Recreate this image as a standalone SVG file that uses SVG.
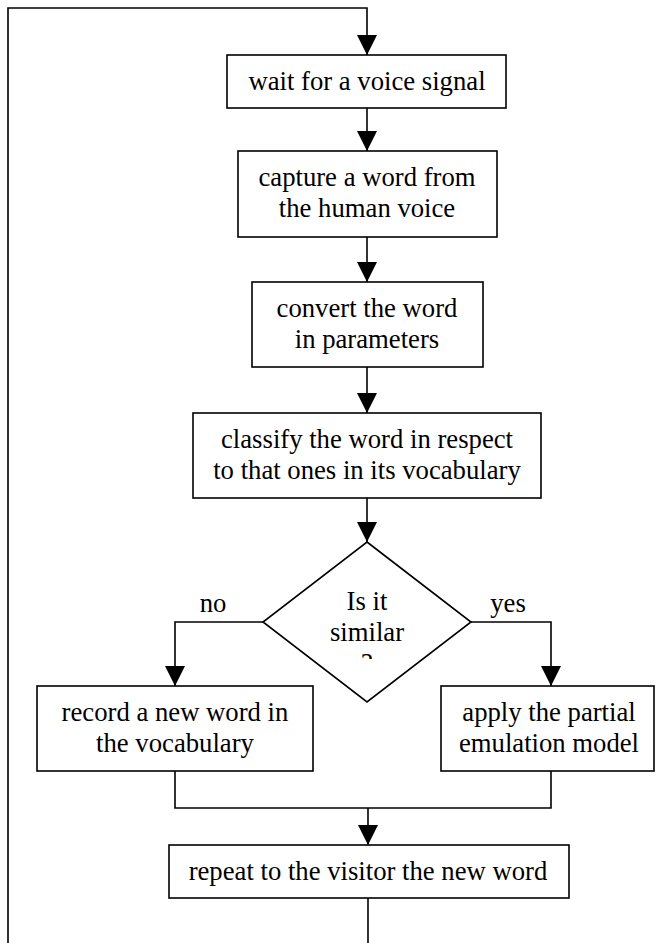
<svg xmlns="http://www.w3.org/2000/svg" width="656" height="943" viewBox="0 0 656 943">
<style>
.box{fill:#fff;stroke:#000;stroke-width:1.6}
.ln{fill:none;stroke:#000;stroke-width:1.6}
text{font-family:"Liberation Serif","Times New Roman",serif;font-size:26.7px;fill:#000;text-anchor:middle}
</style>
<defs>
<marker id="ah" markerWidth="20" markerHeight="20" refX="20" refY="10" orient="auto" markerUnits="userSpaceOnUse">
<path d="M0,0 L20,10 L0,20 Z" fill="#000"/>
</marker>
<clipPath id="dclip"><rect x="263" y="540" width="208" height="119"/></clipPath>
</defs>
<rect width="656" height="943" fill="#fff"/>
<g id="connectors">
<path class="ln" d="M8,943 L8,8 L367,8 L367,55" marker-end="url(#ah)"/>
<path class="ln" d="M367,108 L367,151" marker-end="url(#ah)"/>
<path class="ln" d="M367,237 L367,282" marker-end="url(#ah)"/>
<path class="ln" d="M367,367 L367,413" marker-end="url(#ah)"/>
<path class="ln" d="M367,498 L367,542" marker-end="url(#ah)"/>
<path class="ln" d="M263,622 L175,622 L175,686" marker-end="url(#ah)"/>
<path class="ln" d="M471,622 L551,622 L551,686" marker-end="url(#ah)"/>
<path class="ln" d="M175,771 L175,808 L551,808 L551,771"/>
<path class="ln" d="M368,808 L368,845" marker-end="url(#ah)"/>
<path class="ln" d="M368,898 L368,943"/>
<text x="213" y="612">no</text>
<text x="508" y="612">yes</text>
</g>
<g id="n1"><rect class="box" x="227" y="55" width="279" height="53"/><text x="367" y="90">wait for a voice signal</text></g>
<g id="n2"><rect class="box" x="238" y="151" width="259" height="86"/><text x="367" y="186">capture a word from</text><text x="367" y="217">the human voice</text></g>
<g id="n3"><rect class="box" x="252" y="282" width="231" height="85"/><text x="367" y="317">convert the word</text><text x="367" y="348">in parameters</text></g>
<g id="n4"><rect class="box" x="193" y="413" width="348" height="85"/><text x="367" y="448">classify the word in respect</text><text x="367" y="479">to that ones in its vocabulary</text></g>
<g id="n5"><path class="box" d="M367,542 L471,622 L367,702 L263,622 Z"/><g clip-path="url(#dclip)"><text x="367" y="610">Is it</text><text x="367" y="641">similar</text><text x="367" y="672">?</text></g></g>
<g id="n6"><rect class="box" x="37" y="686" width="276" height="85"/><text x="175" y="721">record a new word in</text><text x="175" y="752">the vocabulary</text></g>
<g id="n7"><rect class="box" x="441" y="686" width="213" height="85"/><text x="549" y="721">apply the partial</text><text x="549" y="752">emulation model</text></g>
<g id="n8"><rect class="box" x="169" y="845" width="400" height="53"/><text x="368" y="880">repeat to the visitor the new word</text></g>
</svg>
